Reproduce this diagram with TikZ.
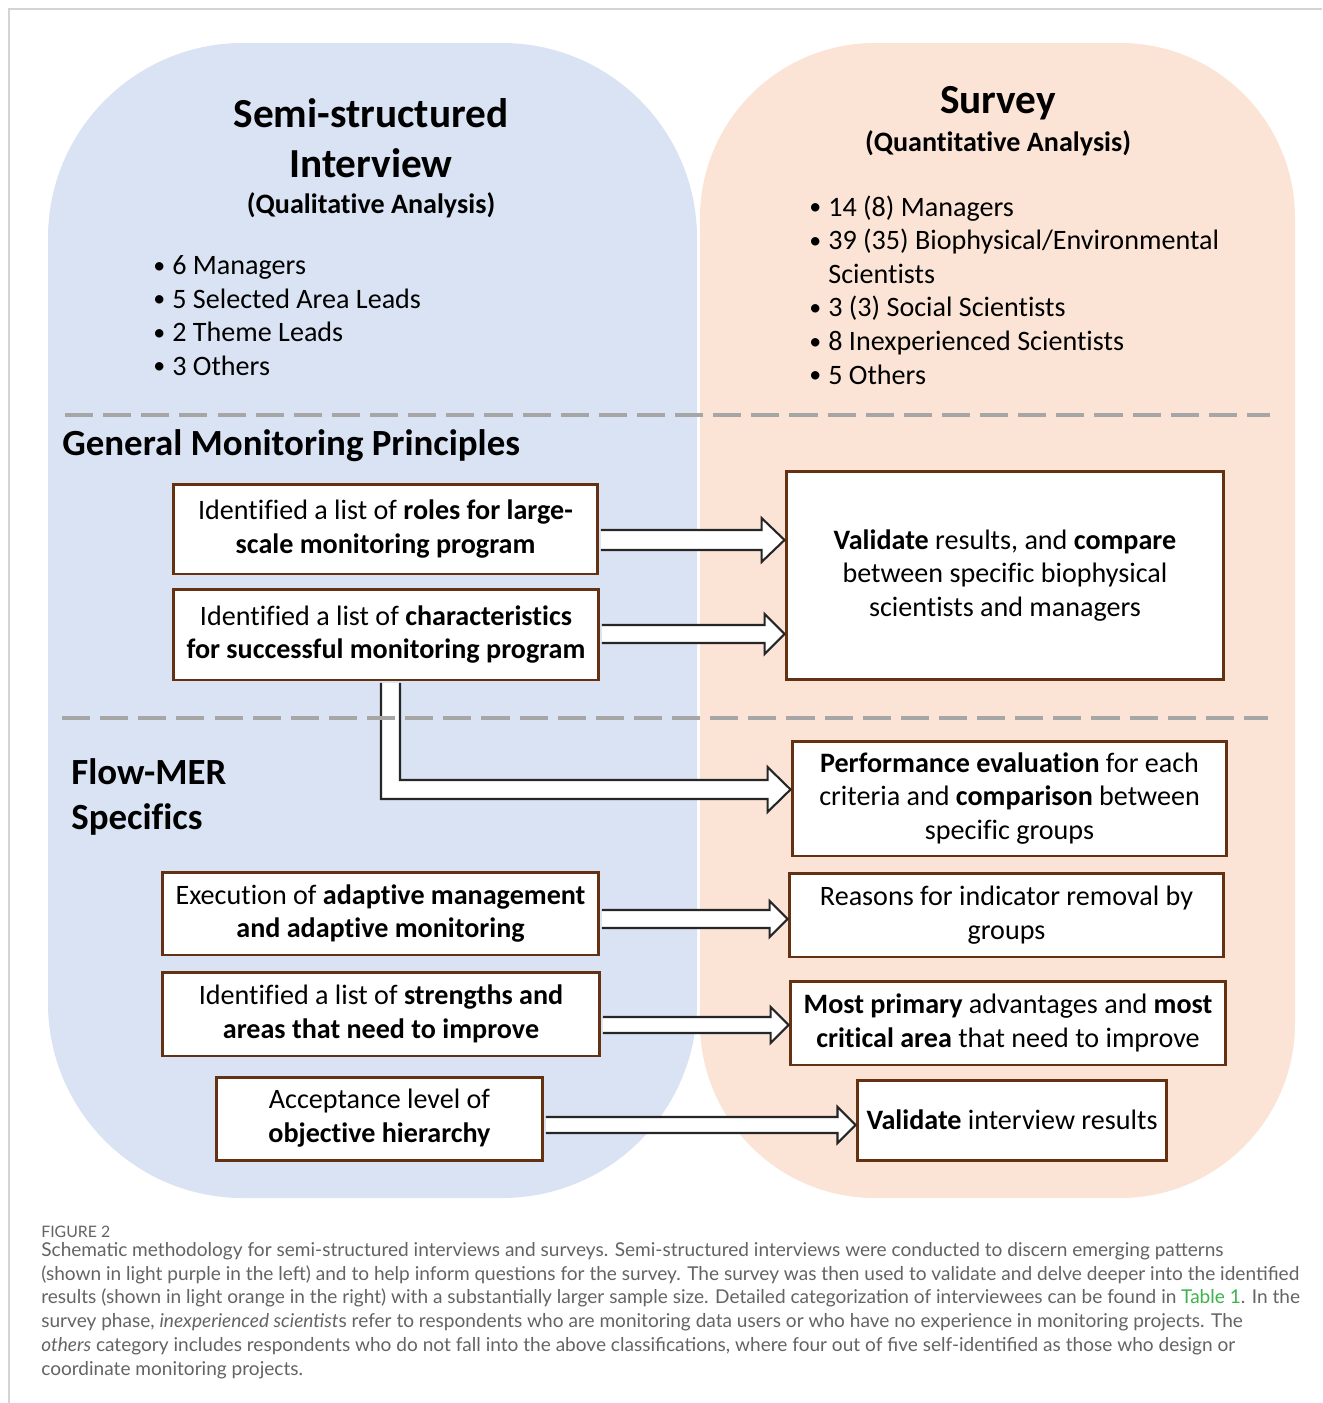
\documentclass[tikz,border=0pt]{standalone}
\usepackage{fontspec}
\setmainfont{Carlito}[Ligatures={NoCommon}]
\newfontfamily\capfont{Lato}
\usetikzlibrary{calc}
\definecolor{blobblue}{RGB}{218,227,243}
\definecolor{blobpeach}{RGB}{251,228,214}
\definecolor{boxbrown}{RGB}{100,50,18}
\definecolor{arrowdark}{RGB}{38,38,38}
\definecolor{dashgray}{RGB}{166,166,166}
\definecolor{capgray}{RGB}{100,100,100}
\definecolor{linkgreen}{RGB}{60,180,75}
\definecolor{framegray}{RGB}{212,212,212}
\newcommand\bul{\makebox[0.38cm][l]{\raisebox{0.05em}{\scalebox{0.85}{•}}}}
% block arrow: #1 from node, #2 to node, #3 y of tip, #4 shaft half, #5 head half, #6 head length
\newcommand\harrow[6]{%
  \coordinate (hs) at (#1.east |- 0,#3);
  \coordinate (he) at (#2.west |- 0,#3);
  \draw[barrow] ($(hs)+(1.5,-#4)$) -- ($(he)+(-#6,-#4)$) -- ($(he)+(-#6,-#5)$) -- (he)
    -- ($(he)+(-#6,#5)$) -- ($(he)+(-#6,#4)$) -- ($(hs)+(1.5,#4)$);
}
\tikzset{
  box/.style={draw=boxbrown, line width=1.7pt, fill=white, align=center, inner sep=0pt,
    font=\fontsize{16}{19.3}\selectfont},
  barrow/.style={draw=arrowdark, line width=1.2pt, fill=white, line join=miter},
  sepline/.style={dashgray, line width=2.3pt, dash pattern=on 16pt off 5.7pt},
  titletext/.style={font=\bfseries\fontsize{23.5}{28.3}\selectfont, align=center, inner sep=0pt},
  subtitle/.style={font=\bfseries\fontsize{16}{19.3}\selectfont, inner sep=0pt},
  bullets/.style={font=\fontsize{16}{19.1}\selectfont, align=left, anchor=west, inner sep=0pt},
  section/.style={font=\bfseries\fontsize{21}{25.5}\selectfont, align=left, anchor=west, inner sep=0pt},
}
\begin{document}
\begin{tikzpicture}[x=0.02cm, y=-0.02cm]
\useasboundingbox (0,0) rectangle (1322,1403);
\fill[white] (0,0) rectangle (1322,1403);
\draw[framegray, line width=1.1pt] (9,1403) -- (9,9) -- (1322,9);

% background blobs
\fill[blobblue, rounded corners=3.9cm] (48,43) rectangle (697,1198);
\fill[blobpeach, rounded corners=3.5cm] (700,43) rectangle (1295,1198);

% separator
\draw[sepline] (65,415) -- (1270,415);

% headings
\node[titletext] (t1) at (371,138) {Semi-structured\\Interview};
\node[subtitle] (t1s) at (371,205) {(Qualitative Analysis)};
\node[titletext] (t2) at (998,103) {Survey};
\node[subtitle] (t2s) at (998,143) {(Quantitative Analysis)};

\node[bullets] (lb) at (153,315.5) {\bul 6 Managers\\ \bul 5 Selected Area Leads\\ \bul 2 Theme Leads\\ \bul 3 Others};
\node[bullets] (rb) at (809,290) {\bul 14 (8) Managers\\ \bul 39 (35) Biophysical/Environmental\\ \hspace*{0.38cm}Scientists\\ \bul 3 (3) Social Scientists\\ \bul 8 Inexperienced Scientists\\ \bul 5 Others};

\node[section] (gmp) at (62,446) {General Monitoring Principles};
\node[section] (fm) at (71,797) {Flow-MER\\Specifics};

% boxes
\node[box, minimum width=8.5cm, minimum height=1.8cm] (b1) at (385.5,529)
  {Identified a list of \textbf{roles for large-}\\\textbf{scale monitoring program}};
\node[box, minimum width=8.52cm, minimum height=1.82cm] (b2) at (386,634.5)
  {Identified a list of \textbf{characteristics}\\\textbf{for successful monitoring program}};
\node[box, minimum width=8.76cm, minimum height=4.18cm] (r1) at (1005,575.5)
  {\textbf{Validate} results, and \textbf{compare}\\between specific biophysical\\scientists and managers};
\node[box, minimum width=8.7cm, minimum height=2.3cm] (r2) at (1009.5,798.5)
  {\textbf{Performance evaluation} for each\\criteria and \textbf{comparison} between\\specific groups};
\node[box, minimum width=8.74cm, minimum height=1.66cm] (b3) at (380.5,913.5)
  {Execution of \textbf{adaptive management}\\\textbf{and adaptive monitoring}};
\node[box, minimum width=8.7cm, minimum height=1.68cm] (r3) at (1006.5,915)
  {Reasons for indicator removal by\\groups};
\node[box, minimum width=8.76cm, minimum height=1.68cm] (b4) at (381,1014)
  {Identified a list of \textbf{strengths and}\\\textbf{areas that need to improve}};
\node[box, minimum width=8.72cm, minimum height=1.68cm] (r4) at (1008,1023)
  {\textbf{Most primary} advantages and \textbf{most}\\\textbf{critical area} that need to improve};
\node[box, minimum width=6.54cm, minimum height=1.66cm] (b5) at (379.5,1118.5)
  {Acceptance level of\\\textbf{objective hierarchy}};
\node[box, minimum width=6.2cm, minimum height=1.6cm] (r5) at (1012,1120)
  {\textbf{Validate} interview results};

% block arrows
\harrow{b1}{r1}{540}{10}{22}{23}
\harrow{b2}{r1}{634}{9}{20}{20}
\harrow{b3}{r3}{919}{9}{18}{18}
\harrow{b4}{r4}{1025}{8}{18}{18}
\harrow{b5}{r5}{1125}{8}{18}{18}

% L-shaped arrow from b2 to r2
\coordinate (lt) at (r2.west |- 0,789.5);
\coordinate (lc) at (b2.south |- lt);
\draw[barrow] ($(b2.south)+(-5,1.5)$) -- ($(lc)+(-5,9.5)$) -- ($(lt)+(-23,9.5)$) -- ($(lt)+(-23,22.5)$)
  -- (lt) -- ($(lt)+(-23,-22.5)$) -- ($(lt)+(-23,-9.5)$) -- ($(lc)+(14,-9.5)$) -- ($(b2.south)+(14,1.5)$);

\draw[sepline] (62,718) -- (1268,718);

% caption
\node[anchor=west, inner sep=0pt, font=\capfont\fontsize{9}{10}\selectfont, text=capgray] (fig) at (41,1232) {FIGURE 2};
\node[anchor=north west, inner sep=0pt, align=left, font=\capfont\fontsize{10.85}{13.5}\selectfont, text=capgray] (cap) at (41,1242)
{Schematic methodology for semi-structured interviews and surveys. Semi-structured interviews were conducted to discern emerging patterns\\
(shown in light purple in the left) and to help inform questions for the survey. The survey was then used to validate and delve deeper into the identified\\
results (shown in light orange in the right) with a substantially larger sample size. Detailed categorization of interviewees can be found in {\color{linkgreen}Table 1}. In the\\
survey phase, \textit{inexperienced scientist}s refer to respondents who are monitoring data users or who have no experience in monitoring projects. The\\
\textit{others} category includes respondents who do not fall into the above classifications, where four out of five self-identified as those who design or\\
coordinate monitoring projects.};
\end{tikzpicture}
\end{document}
